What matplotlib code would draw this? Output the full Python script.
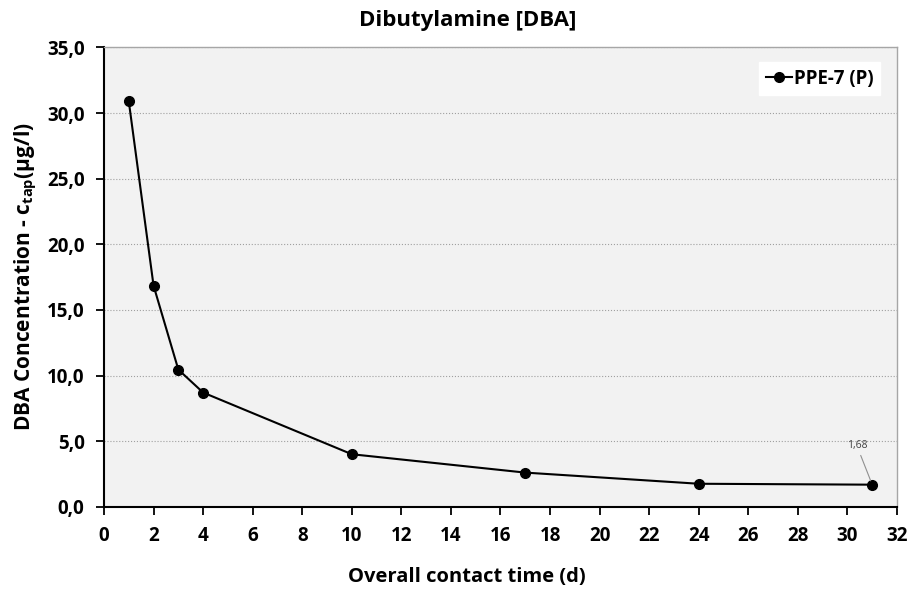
import matplotlib
matplotlib.use('Agg')
import matplotlib.pyplot as plt
import matplotlib.ticker as ticker

plt.rcParams['font.family'] = ['Open Sans', 'DejaVu Sans']

days = [1, 2, 3, 4, 10, 17, 24, 31]
conc = [30.9, 16.85, 10.45, 8.7, 4.0, 2.6, 1.75, 1.68]
series_name = 'PPE-7 (P)'

fig = plt.figure(figsize=(9.09, 5.89), dpi=100)
ax = fig.add_axes([0.1144, 0.1397, 0.8724, 0.7797])
ax.set_facecolor('#f2f2f2')

ax.plot(days, conc, color='black', lw=1.5, marker='o', ms=7,
        label=series_name, zorder=3)

ax.set_xlim(0, 32)
ax.set_ylim(0, 35)
ax.xaxis.set_major_locator(ticker.MultipleLocator(2))
ax.yaxis.set_major_locator(ticker.MultipleLocator(5))
ax.yaxis.set_major_formatter(
    ticker.FuncFormatter(lambda v, p: ('%.1f' % v).replace('.', ',')))
ax.grid(axis='y', color='#a0a0a0', ls=':', lw=0.8)
ax.set_axisbelow(True)

for s in ('top', 'right'):
    ax.spines[s].set_color('#a6a6a6')
    ax.spines[s].set_linewidth(1.0)
for s in ('left', 'bottom'):
    ax.spines[s].set_color('black')
    ax.spines[s].set_linewidth(1.5)

ax.tick_params(direction='out', length=6, width=1.3, labelsize=13.5, pad=8)
for lbl in ax.get_xticklabels() + ax.get_yticklabels():
    lbl.set_fontweight('bold')

# title and x label are centred on the whole chart, not the plot area
fig.text(0.515, 0.966, 'Dibutylamine [DBA]', fontsize=16, fontweight='bold',
         ha='center', va='center')
ax.set_xlabel('Overall contact time (d)', fontsize=14.5, fontweight='bold')
ax.xaxis.set_label_coords(0.458, -0.132)
ax.set_ylabel(r'DBA Concentration - c$_{\mathregular{tap}}$(µg/l)',
              fontsize=15, fontweight='bold', labelpad=6)

# value label on the last point
last = ('%.2f' % conc[-1]).replace('.', ',')
ax.annotate(last, xy=(days[-1], conc[-1]), xytext=(-11, 24),
            textcoords='offset points', fontsize=7.5, color='#404040',
            ha='center', va='bottom',
            arrowprops=dict(arrowstyle='-', color='#909090', lw=0.8,
                            shrinkA=1, shrinkB=3))

leg = ax.legend(loc='upper right', bbox_to_anchor=(0.9786, 0.968),
                frameon=True, fancybox=False, handlelength=1.4,
                handletextpad=0.1, borderpad=0.35, borderaxespad=0,
                prop={'weight': 'bold', 'size': 13.5})
leg.get_frame().set_edgecolor('white')
leg.get_frame().set_facecolor('white')
leg.get_frame().set_alpha(1)

fig.savefig('out.png', dpi=100)
